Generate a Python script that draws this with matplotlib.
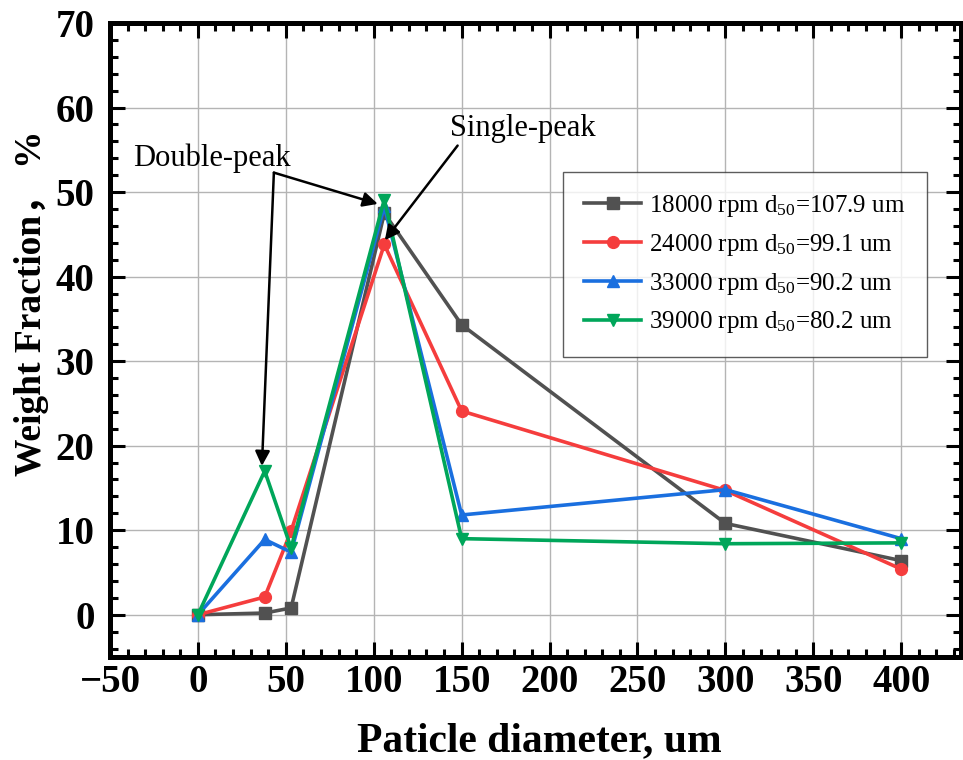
import matplotlib
matplotlib.use('Agg')
import matplotlib.pyplot as plt
from matplotlib.ticker import MultipleLocator

plt.rcParams['font.family'] = ['Liberation Serif', 'Noto Sans CJK SC']
plt.rcParams['mathtext.fontset'] = 'custom'
plt.rcParams['mathtext.rm'] = 'Liberation Serif'
plt.rcParams['mathtext.default'] = 'regular'

# particle size classes (um)
diameter = [0, 38, 53, 106, 150, 300, 400]

wf_18000 = [0, 0.2, 0.8, 47.5, 34.3, 10.8, 6.4]
wf_24000 = [0, 2.1, 9.9, 43.8, 24.1, 14.7, 5.4]
wf_33000 = [0, 8.9, 7.4, 48.3, 11.8, 14.8, 9.0]
wf_39000 = [0, 17.0, 7.9, 49.1, 9.0, 8.4, 8.5]

labels = ['18000 rpm d$_{50}$=107.9 um',
          '24000 rpm d$_{50}$=99.1 um',
          '33000 rpm d$_{50}$=90.2 um',
          '39000 rpm d$_{50}$=80.2 um']
colors = ['#515151', '#F53D3D', '#1A6FDF', '#00A65A']
markers = ['s', 'o', '^', 'v']

fig = plt.figure(figsize=(9.63, 7.6), dpi=100)
ax = fig.add_axes([110/963, 1-657/760, 851/963, 634/760])

for ys, c, m, lab in zip([wf_18000, wf_24000, wf_33000, wf_39000], colors, markers, labels):
    ax.plot(diameter, ys, color=c, marker=m, lw=2.6, ms=8.5, label=lab, clip_on=False)

ax.set_xlim(-50, 434)
ax.set_ylim(-5, 70)
ax.xaxis.set_major_locator(MultipleLocator(50))
ax.xaxis.set_minor_locator(MultipleLocator(10))
ax.yaxis.set_major_locator(MultipleLocator(10))
ax.yaxis.set_minor_locator(MultipleLocator(2))
ax.grid(True, which='major', color='#b4b4b4', lw=1.0)
ax.set_axisbelow(True)

for s in ax.spines.values():
    s.set_linewidth(3.6)
ax.tick_params(which='both', direction='in', top=True, right=True, width=2.2)
ax.tick_params(which='major', length=11, labelsize=28)
ax.tick_params(axis='x', which='major', pad=5)
ax.tick_params(axis='y', which='major', pad=11)
ax.tick_params(which='minor', length=6)
for t in ax.get_xticklabels() + ax.get_yticklabels():
    t.set_fontweight('bold')

ax.set_xlabel('Paticle diameter, um', fontsize=30, fontweight='bold')
ax.xaxis.set_label_coords(0.505, -0.103)
ax.set_ylabel('Weight Fraction， %', fontsize=27, fontweight='bold')
ax.yaxis.set_label_coords(-0.072, 0.558)

leg = ax.legend(loc='upper left', bbox_to_anchor=(0.532, 0.765), borderaxespad=0,
                fontsize=18, frameon=True, fancybox=False, handlelength=2.3,
                handletextpad=0.3, labelspacing=0.51, borderpad=0.85)
leg.get_frame().set_edgecolor('#333333')
leg.get_frame().set_linewidth(1.0)

arrow = dict(arrowstyle='-|>', color='black', lw=1.8, mutation_scale=22, shrinkA=0, shrinkB=0)
ax.text(-36.9, 54.0, 'Double-peak', fontsize=22, va='center', ha='left')
ax.annotate('', xy=(36.4, 17.6), xytext=(43.2, 52.3), arrowprops=arrow)
ax.annotate('', xy=(102.3, 48.6), xytext=(43.2, 52.3), arrowprops=arrow)
ax.text(143.2, 57.5, 'Single-peak', fontsize=22, va='center', ha='left')
ax.annotate('', xy=(106.3, 44.3), xytext=(147.7, 55.5), arrowprops=arrow)

fig.savefig('out.png', dpi=100)
